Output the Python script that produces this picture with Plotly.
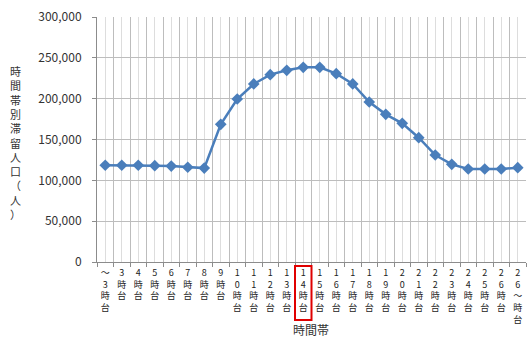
import plotly.graph_objects as go

categories = ["～3時台", "3時台", "4時台", "5時台", "6時台", "7時台", "8時台", "9時台",
              "10時台", "11時台", "12時台", "13時台", "14時台", "15時台", "16時台", "17時台",
              "18時台", "19時台", "20時台", "21時台", "22時台", "23時台", "24時台", "25時台",
              "26時台", "26～時台"]
population = [118500, 118500, 118500, 118000, 117500, 116000, 115000, 168600,
              199600, 218000, 229400, 234700, 238400, 238400, 230600, 218000,
              195900, 180800, 169800, 152200, 131000, 119600, 113900, 113900,
              113900, 115500]
highlight = "14時台"
y_title = "時間帯別滞留人口（人）"
x_title = "時間帯"

idx = list(range(len(categories)))
ticktext = ["<br>".join(list(c)) for c in categories]
hi = categories.index(highlight)

font_family = "Noto Sans CJK JP, Noto Sans, sans-serif"
line_color = "#4A7EBB"

fig = go.Figure()
fig.add_trace(go.Scatter(
    x=idx, y=population, mode="lines+markers",
    line=dict(color=line_color, width=2.5),
    marker=dict(symbol="diamond", size=9, color=line_color),
    showlegend=False, hoverinfo="skip",
))

fig.update_layout(
    width=528, height=338,
    margin=dict(l=97, r=2, t=17, b=76),
    paper_bgcolor="white", plot_bgcolor="white",
    font=dict(family=font_family, color="#333333"),
    xaxis=dict(
        range=[-0.5, len(categories) - 0.5],
        tickmode="array", tickvals=idx, ticktext=ticktext,
        tickfont=dict(size=9, color="#222222"),
        showgrid=True, gridcolor="#DDDDDD", gridwidth=1,
        showline=True, linecolor="#8C8C8C", linewidth=1,
        ticks="", zeroline=False, fixedrange=True,
        minor=dict(tick0=-0.5, dtick=1, showgrid=True, gridcolor="#BDBDBD",
                   gridwidth=1.3, ticks="outside", ticklen=4, tickcolor="#8C8C8C"),
        ticklabelstandoff=2,
    ),
    yaxis=dict(
        range=[0, 300000], dtick=50000, tickformat=",",
        tickfont=dict(size=12, color="#333333"),
        showgrid=True, gridcolor="#BDBDBD", gridwidth=1.3,
        showline=True, linecolor="#8C8C8C", linewidth=1,
        ticks="outside", ticklen=4, tickcolor="#8C8C8C",
        zeroline=False, ticklabelstandoff=8,
    ),
    annotations=[
        dict(text="<br>".join(list(y_title)), xref="paper", yref="paper",
             x=(15 - 97) / 429, y=(262 - 142) / 245, xanchor="center", yanchor="middle",
             showarrow=False, font=dict(size=11, color="#333333", family=font_family)),
        dict(text=x_title, xref="paper", yref="paper",
             x=(311 - 97) / 429, y=(262 - 329) / 245, xanchor="center", yanchor="middle",
             showarrow=False, font=dict(size=12, color="#333333", family=font_family)),
    ],
    shapes=[
        dict(type="rect", xref="x", yref="paper",
             x0=hi - 0.5, x1=hi + 0.5, y0=(262 - 320) / 245, y1=(262 - 266) / 245,
             line=dict(color="#E00000", width=2), fillcolor="rgba(0,0,0,0)"),
    ],
)

fig.write_html("out.html")
